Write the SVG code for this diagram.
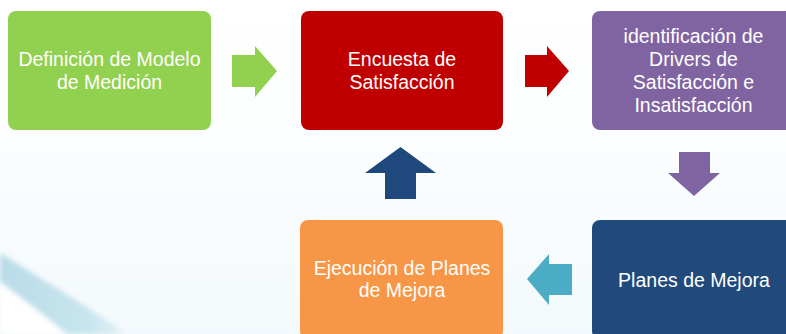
<svg xmlns="http://www.w3.org/2000/svg" width="786" height="334" viewBox="0 0 786 334">
<defs>
<linearGradient id="bg" x1="0" y1="0" x2="0" y2="1">
<stop offset="0" stop-color="#ffffff"/>
<stop offset="0.45" stop-color="#fbfdfe"/>
<stop offset="1" stop-color="#f3f9fc"/>
</linearGradient>
<linearGradient id="sw" x1="0" y1="0" x2="1" y2="0">
<stop offset="0" stop-color="#b9dce8"/>
<stop offset="0.7" stop-color="#c8e5ee"/>
<stop offset="1" stop-color="#e3f2f6"/>
</linearGradient>
<filter id="blur" x="-20%" y="-20%" width="140%" height="140%"><feGaussianBlur stdDeviation="2.5"/></filter>
</defs>
<style>
.box{rx:8;ry:8}
.t{font-family:"Liberation Sans",Arial,sans-serif;font-size:19.5px;fill:#ffffff;text-anchor:middle}
</style>
<rect x="0" y="0" width="786" height="334" fill="url(#bg)"/>
<g id="swoosh" filter="url(#blur)">
<path d="M0,282 L67,334 L0,334 Z" fill="#ffffff"/>
<path d="M0,253 C40,278 85,305 127,334 L67,334 C45,316 22,298 0,282 Z" fill="url(#sw)"/>
</g>
<g id="connectors">
<polygon points="232,55 255,55 255,46 277,71 255,97 255,87 232,87" fill="#92D050"/>
<polygon points="525,55 547,55 547,46 569,71 547,97 547,87 525,87" fill="#C00000"/>
<polygon points="679,152 710,152 710,173 720,173 694,196 668,173 679,173" fill="#8064A2"/>
<polygon points="572,264 572,295 549,295 549,305 527,279 549,254 549,264" fill="#4BACC6"/>
<polygon points="385,199 416,199 416,173 436,173 400.5,147 365,173 385,173" fill="#1F497D"/>
</g>
<g id="n1">
<rect class="box" x="8" y="11" width="203" height="119" fill="#92D050"/>
<text class="t" x="109.5" y="66">Definición de Modelo</text>
<text class="t" x="109.5" y="89">de Medición</text>
</g>
<g id="n2">
<rect class="box" x="301" y="11" width="202" height="119" fill="#C00000"/>
<text class="t" x="402" y="66">Encuesta de</text>
<text class="t" x="402" y="89">Satisfacción</text>
</g>
<g id="n3">
<rect class="box" x="592" y="11" width="203" height="119" fill="#8064A2"/>
<text class="t" x="693.5" y="43">identificación de</text>
<text class="t" x="693.5" y="66">Drivers de</text>
<text class="t" x="693.5" y="89">Satisfacción e</text>
<text class="t" x="693.5" y="112">Insatisfacción</text>
</g>
<g id="n4">
<rect class="box" x="592" y="220" width="203" height="119" fill="#214A7C"/>
<text class="t" x="694" y="287">Planes de Mejora</text>
</g>
<g id="n5">
<rect class="box" x="300" y="220" width="203" height="119" fill="#F79646"/>
<text class="t" x="402" y="275">Ejecución de Planes</text>
<text class="t" x="402" y="297">de Mejora</text>
</g>
</svg>
